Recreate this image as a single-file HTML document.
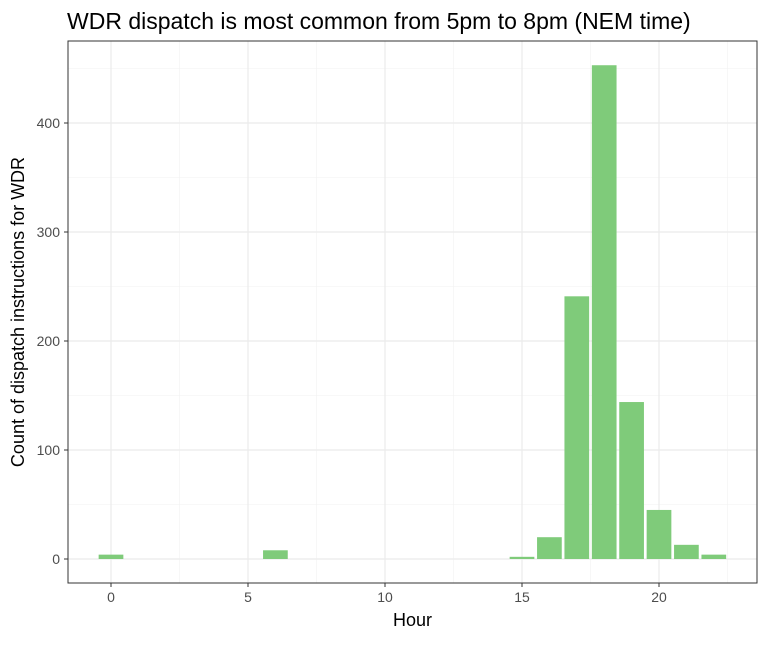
<!DOCTYPE html>
<html><head><meta charset="utf-8"><style>
body{margin:0;background:#fff;font-family:"Liberation Sans",Arial,sans-serif}
</style></head><body>
<svg width="768" height="640" xmlns="http://www.w3.org/2000/svg">
<g id="g"></g>
</svg>
<script>
const hours=[0,6,15,16,17,18,19,20,21,22];
const counts=[4,8,2,20,241,453,144,45,13,4];
const xTicks=[0,5,10,15,20];
const yTicks=[0,100,200,300,400];
const L=68,R=757,T=41,B=583;
const x=h=>111+(h-0)*27.4;
const y=v=>559-v*1.09;
const NS="http://www.w3.org/2000/svg";
const g=document.getElementById('g');
function mk(t,a,p){const e=document.createElementNS(NS,t);for(const k in a)e.setAttribute(k,a[k]);(p||g).appendChild(e);return e;}
const bg=mk('rect',{x:L,y:T,width:R-L,height:B-T,fill:'#fff'});


for(let v=50;v<=450;v+=100){const l=mk('line',{x1:L,x2:R,y1:y(v),y2:y(v),stroke:'#f2f2f2','stroke-width':0.6});}
for(let h=2.5;h<=22.5;h+=5){const l=mk('line',{x1:x(h),x2:x(h),y1:T,y2:B,stroke:'#f2f2f2','stroke-width':0.6});}
yTicks.forEach(v=>{const l=mk('line',{x1:L,x2:R,y1:y(v),y2:y(v),stroke:'#ebebeb','stroke-width':1.2});
 const t=mk('text',{x:L-8,y:y(v)+5,'text-anchor':'end','font-size':14,fill:'#4d4d4d'});t.textContent=v;
 const k=mk('line',{x1:L-4,x2:L,y1:y(v),y2:y(v),stroke:'#333'});});
xTicks.forEach(h=>{const l=mk('line',{x1:x(h),x2:x(h),y1:T,y2:B,stroke:'#ebebeb','stroke-width':1.2});
 const t=mk('text',{x:x(h),y:B+19,'text-anchor':'middle','font-size':14,fill:'#4d4d4d'});t.textContent=h;
 const k=mk('line',{x1:x(h),x2:x(h),y1:B,y2:B+4,stroke:'#333'});});
hours.forEach((h,i)=>{const w=24.7;const r=mk('rect',{x:x(h)-w/2,y:y(counts[i]),width:w,height:y(0)-y(counts[i]),fill:'#7fcb7a'});
 });
const fr=mk('rect',{x:L,y:T,width:R-L,height:B-T,fill:'none',stroke:'#333','stroke-width':1});

const ti=mk('text',{x:67,y:29,'font-size':23,fill:'#000'});ti.textContent='WDR dispatch is most common from 5pm to 8pm (NEM time)';

const xt=mk('text',{x:(L+R)/2,y:626,'text-anchor':'middle','font-size':18,fill:'#000'});xt.textContent='Hour';

const yt=mk('text',{x:0,y:0,'text-anchor':'middle','font-size':18,fill:'#000',transform:'translate(24,'+((T+B)/2)+') rotate(-90)'});yt.textContent='Count of dispatch instructions for WDR';

</script>
</body></html>
